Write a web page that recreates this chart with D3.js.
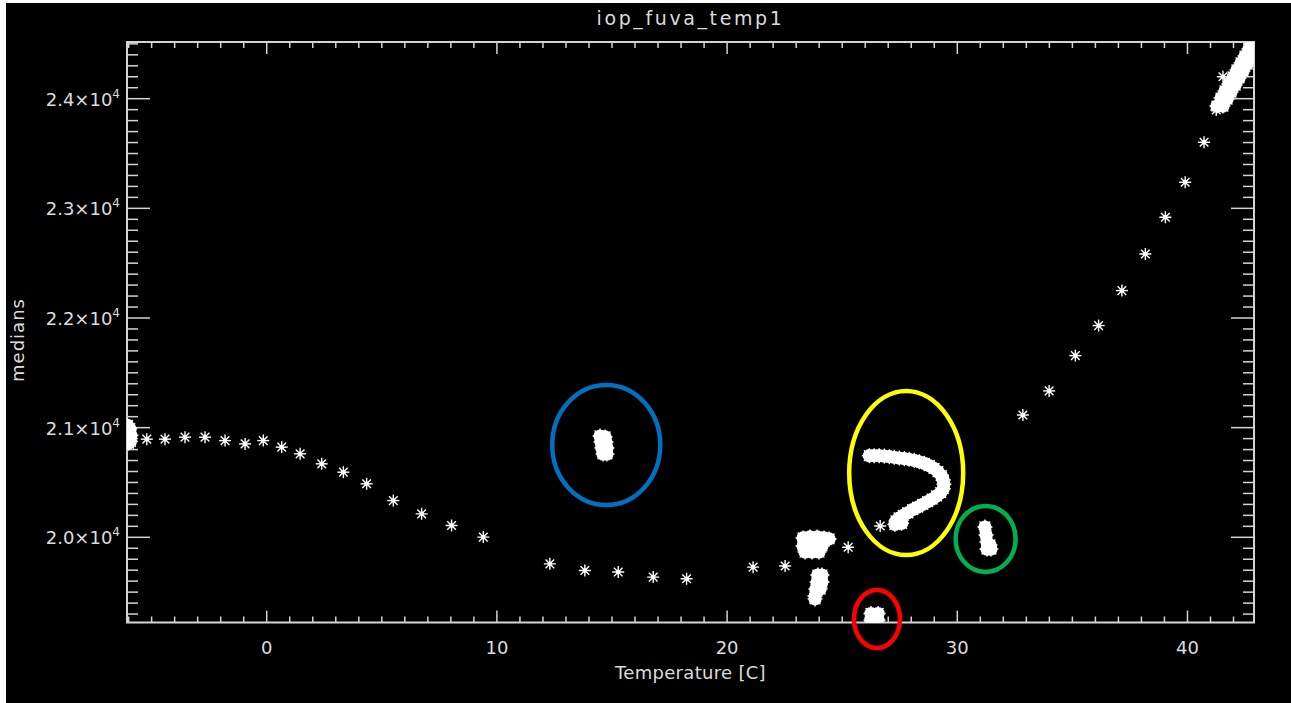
<!DOCTYPE html>
<html>
<head>
<meta charset="utf-8">
<script src="https://cdn.jsdelivr.net/npm/d3@7"></script>
<style>
  html, body { margin: 0; padding: 0; background: #ffffff; }
  svg { display: block; }
  text { font-family: "DejaVu Sans", sans-serif; fill: #dcdcdc; }
</style>
</head>
<body>
<svg id="chart" width="1291" height="703"></svg>
<script>
// ---------------- DATA ----------------
const chartTitle = "iop_fuva_temp1";
const xTitle = "Temperature [C]";
const yTitle = "medians";
const xDomain = [-6.07, 42.89];
const yDomain = [19223, 24517];
const xMajorTicks = [0, 10, 20, 30, 40];
const xTickLabels = ["0", "10", "20", "30", "40"];
const yMajorTicks = [20000, 21000, 22000, 23000, 24000];
const yTickMantissa = ["2.0", "2.1", "2.2", "2.3", "2.4"];
const yTickExponent = "4";

// single medians (isolated asterisks)
const starTemps = [-5.21, -4.42, -3.55, -2.68, -1.81, -0.94, -0.15, 0.65, 1.45, 2.39, 3.33, 4.34, 5.50, 6.73, 8.03, 9.41,
  12.30, 13.82, 15.27, 16.79, 18.24, 21.13, 22.52, 25.26, 26.65,
  32.85, 33.99, 35.13, 36.14, 37.15, 38.17, 39.04, 39.90, 40.72, 41.25, 41.54];
const starMedians = [20895, 20895, 20913, 20913, 20882, 20852, 20882, 20822, 20761, 20670, 20594, 20488, 20335, 20214, 20108, 20002,
  19758, 19697, 19683, 19637, 19622, 19728, 19738, 19909, 20103,
  21115, 21335, 21657, 21931, 22250, 22584, 22919, 23238, 23603, 23897, 24200];

// dense clusters of medians (overlapping asterisks) : [temperature, median]
const leftEdgeCluster = [[-6.05, 21020], [-5.95, 20990], [-6.0, 20960], [-5.9, 20930], [-6.02, 20900], [-5.92, 20875], [-6.0, 20860]];
const blueCluster = [[14.48, 20924], [14.70, 20915], [14.52, 20869], [14.74, 20869], [14.56, 20815], [14.78, 20815], [14.61, 20760], [14.78, 20760]];
const clusterA = [[23.30, 19994], [23.60, 20003], [23.91, 20003], [24.21, 19994], [24.43, 19985],
  [23.30, 19921], [23.60, 19921], [23.91, 19921], [24.12, 19921], [23.39, 19866], [23.69, 19866], [23.99, 19866]];
const clusterB = [[23.94, 19656], [24.12, 19656], [23.91, 19592], [24.12, 19592], [23.86, 19528], [24.04, 19528], [23.82, 19465], [23.82, 19438]];
const redCluster = [[26.25, 19305], [26.56, 19305], [26.25, 19245], [26.56, 19245]];
const hookCluster = [[26.18, 20744], [26.39, 20744], [26.61, 20744], [26.83, 20741], [27.05, 20735], [27.26, 20730], [27.48, 20723],
  [27.70, 20717], [27.91, 20711], [28.13, 20702], [28.35, 20689], [28.57, 20675], [28.78, 20653], [28.99, 20629], [29.16, 20598],
  [29.31, 20562], [29.39, 20523], [29.42, 20483], [29.39, 20443], [29.28, 20407], [29.10, 20377], [28.91, 20349], [28.71, 20325],
  [28.50, 20301], [28.28, 20276], [28.06, 20252], [27.85, 20224], [27.65, 20200], [27.47, 20176], [27.34, 20149], [27.29, 20118], [27.58, 20128]];
const greenCluster = [[31.20, 20094], [31.25, 20021], [31.29, 19957], [31.42, 19930], [31.29, 19893], [31.46, 19893]];
const topRightCluster = [[41.28, 23933], [41.46, 24006], [41.63, 24070], [41.80, 24134], [41.98, 24198], [42.15, 24262], [42.33, 24326], [42.50, 24389], [42.67, 24453],
  [41.54, 23933], [41.72, 23997], [41.89, 24061], [42.07, 24125], [42.24, 24189], [42.41, 24253], [42.59, 24316], [42.76, 24380], [42.85, 24444], [42.81, 24500]];

// annotation ellipses: [temperature, median] centres
const annotCentres = [[14.75, 20842], [27.78, 20586], [31.23, 19985], [26.51, 19255]];
const annotColours = ["#0070C0", "#FFFF00", "#00B050", "#FF0000"];
const annotRadii = [[54, 60], [57, 82], [30, 33], [23, 29]];

// ---------------- LAYOUT ----------------
const W = 1291, H = 703;
const plot = { left: 127, right: 1254, top: 42, bottom: 622.5 };
const axisColour = "#d4d4d4";

const svg = d3.select("#chart");
svg.append("rect").attr("x", 6).attr("y", 3).attr("width", W - 6).attr("height", H - 3).attr("fill", "#000");

const x = d3.scaleLinear().domain(xDomain).range([plot.left, plot.right]);
const y = d3.scaleLinear().domain(yDomain).range([plot.bottom, plot.top]);

// clip
svg.append("clipPath").attr("id", "clip").append("rect")
  .attr("x", plot.left).attr("y", plot.top)
  .attr("width", plot.right - plot.left).attr("height", plot.bottom - plot.top);

// ---------- axes box & ticks ----------
const ax = svg.append("g");
ax.append("rect").attr("x", plot.left).attr("y", plot.top)
  .attr("width", plot.right - plot.left).attr("height", plot.bottom - plot.top)
  .attr("fill", "none").attr("stroke", axisColour).attr("stroke-width", 2);

const xMinor = d3.range(-6, 43, 1).filter(v => !xMajorTicks.includes(v));
const yMinor = d3.range(19300, 24501, 100).filter(v => !yMajorTicks.includes(v));

function xTicks(vals, len) {
  vals.forEach(v => {
    ax.append("line").attr("x1", x(v)).attr("x2", x(v)).attr("y1", plot.bottom).attr("y2", plot.bottom - len)
      .attr("stroke", axisColour).attr("stroke-width", 1.5);
    ax.append("line").attr("x1", x(v)).attr("x2", x(v)).attr("y1", plot.top).attr("y2", plot.top + len)
      .attr("stroke", axisColour).attr("stroke-width", 1.5);
  });
}
function yTicks(vals, len) {
  vals.forEach(v => {
    ax.append("line").attr("y1", y(v)).attr("y2", y(v)).attr("x1", plot.left).attr("x2", plot.left + len)
      .attr("stroke", axisColour).attr("stroke-width", 1.5);
    ax.append("line").attr("y1", y(v)).attr("y2", y(v)).attr("x1", plot.right).attr("x2", plot.right - len)
      .attr("stroke", axisColour).attr("stroke-width", 1.5);
  });
}
xTicks(xMinor, 6);
xTicks(xMajorTicks, 12);
yTicks(yMinor, 11);
yTicks(yMajorTicks, 23);

// tick labels
xMajorTicks.forEach((v, i) => {
  svg.append("text").attr("x", x(v)).attr("y", 654).attr("text-anchor", "middle")
    .attr("font-size", 18).text(xTickLabels[i]);
});
yMajorTicks.forEach((v, i) => {
  const t = svg.append("text").attr("x", 120).attr("y", y(v) + 7).attr("text-anchor", "end").attr("font-size", 18);
  t.append("tspan").text(yTickMantissa[i] + "×10");
  t.append("tspan").attr("font-size", 12).attr("dy", -8).text(yTickExponent);
});

// titles
svg.append("text").attr("x", (plot.left + plot.right) / 2).attr("y", 25).attr("text-anchor", "middle")
  .attr("font-size", 19).attr("letter-spacing", 2.6).text(chartTitle);
svg.append("text").attr("x", (plot.left + plot.right) / 2).attr("y", 679).attr("text-anchor", "middle")
  .attr("font-size", 18).attr("letter-spacing", 0.3).text(xTitle);
svg.append("text").attr("transform", `translate(24,${340}) rotate(-90)`).attr("text-anchor", "middle")
  .attr("font-size", 18).attr("letter-spacing", 1).text(yTitle);

// ---------- markers ----------
const marks = svg.append("g").attr("clip-path", "url(#clip)");

function asterisk(g, cx, cy, arm, dot) {
  const d = arm * 0.72;
  const s = g.append("g").attr("transform", `translate(${cx},${cy})`)
    .attr("stroke", "#fff").attr("stroke-width", 1.4).attr("fill", "#fff");
  s.append("line").attr("x1", -arm).attr("x2", arm).attr("y1", 0).attr("y2", 0);
  s.append("line").attr("x1", 0).attr("x2", 0).attr("y1", -arm).attr("y2", arm);
  s.append("line").attr("x1", -d).attr("x2", d).attr("y1", -d).attr("y2", d);
  s.append("line").attr("x1", -d).attr("x2", d).attr("y1", d).attr("y2", -d);
  s.append("circle").attr("r", dot).attr("stroke", "none");
}

starTemps.forEach((t, i) => asterisk(marks, x(t), y(starMedians[i]), 6, 2.3));

const clusters = [leftEdgeCluster, blueCluster, clusterA, clusterB, redCluster, hookCluster, greenCluster, topRightCluster];
clusters.forEach(c => c.forEach(p => asterisk(marks, x(p[0]), y(p[1]), 7.5, 6.6)));

// ---------- annotation ellipses ----------
annotCentres.forEach((c, i) => {
  svg.append("ellipse").attr("cx", x(c[0])).attr("cy", y(c[1]))
    .attr("rx", annotRadii[i][0]).attr("ry", annotRadii[i][1])
    .attr("fill", "none").attr("stroke", annotColours[i]).attr("stroke-width", 4.5);
});
</script>
</body>
</html>
